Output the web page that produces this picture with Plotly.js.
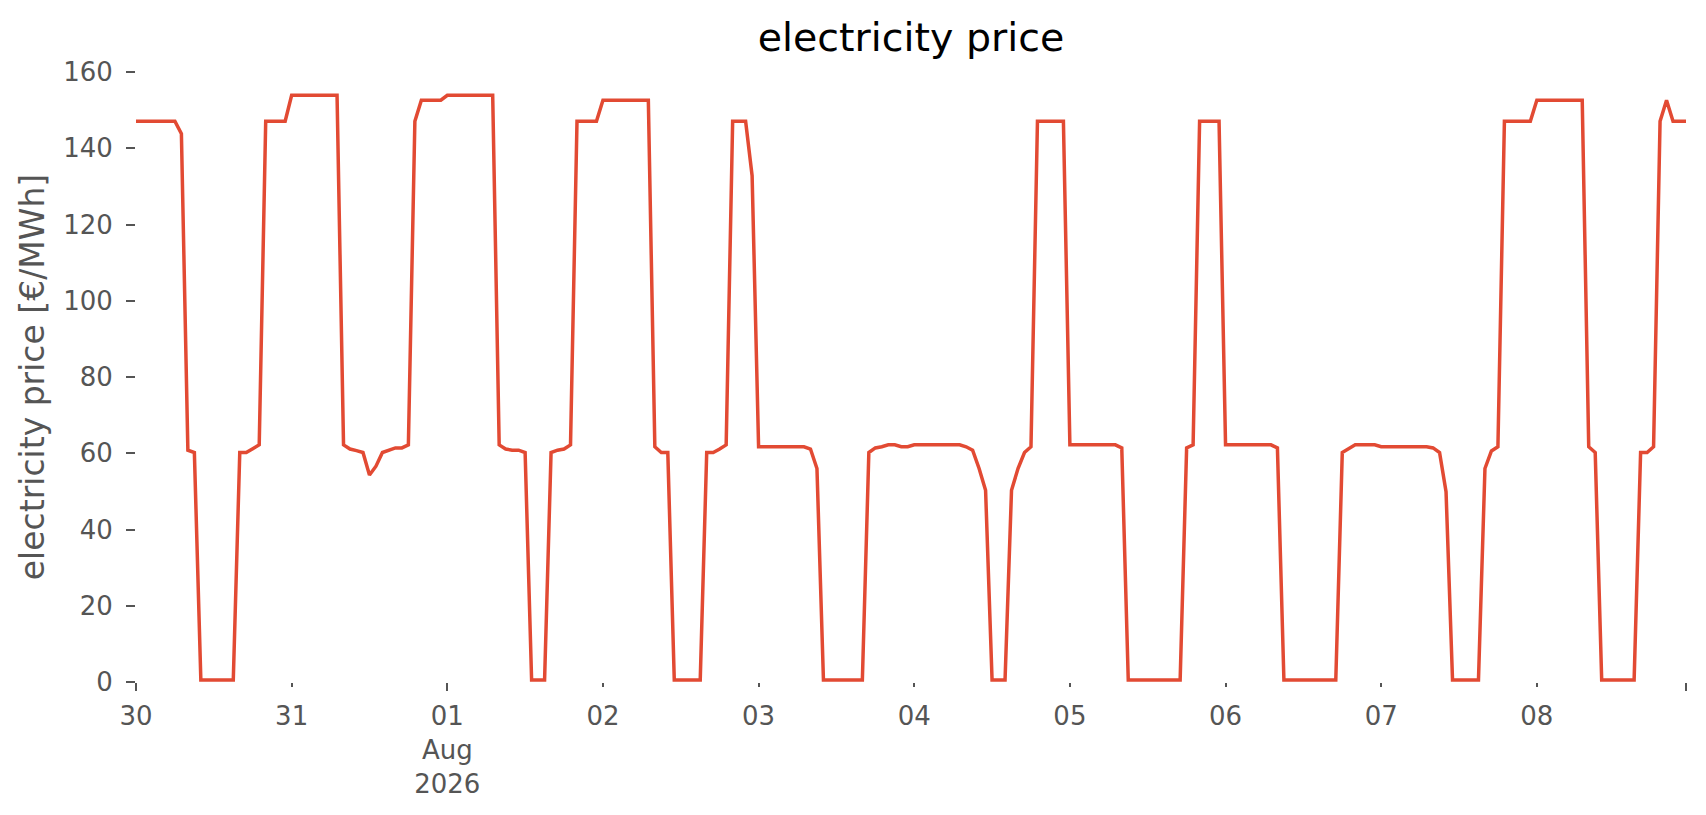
<!DOCTYPE html>
<html>
<head>
<meta charset="utf-8">
<script src="https://cdn.plot.ly/plotly-3.0.1.min.js"></script>
<style>
  html, body { margin: 0; padding: 0; background: #fff; }
  #chart { width: 1706px; height: 815px; }
</style>
</head>
<body>
<div id="chart"></div>
<script>
// ── Data: hourly prices per day ──────────────────────────────────────
const days = ['2026-07-30', '2026-07-31', '2026-08-01', '2026-08-02', '2026-08-03',
              '2026-08-04', '2026-08-05', '2026-08-06', '2026-08-07', '2026-08-08'];

const pricesJul30 = [147.1, 147.1, 147.1, 147.1, 147.1, 147.1, 147.1, 143.8,
                     60.8, 60.2, 0.5, 0.5, 0.5, 0.5, 0.5, 0.5,
                     60.2, 60.2, 61.2, 62.2, 147.1, 147.1, 147.1, 147.1];
const pricesJul31 = [153.9, 153.9, 153.9, 153.9, 153.9, 153.9, 153.9, 153.9,
                     62.2, 61.1, 60.7, 60.2, 54.3, 56.6, 60.2, 60.8,
                     61.4, 61.4, 62.2, 147.1, 152.6, 152.6, 152.6, 152.6];
const pricesAug01 = [153.9, 153.9, 153.9, 153.9, 153.9, 153.9, 153.9, 153.9,
                     62.2, 61.1, 60.8, 60.8, 60.2, 0.5, 0.5, 0.5,
                     60.2, 60.8, 61.1, 62.2, 147.1, 147.1, 147.1, 147.1];
const pricesAug02 = [152.6, 152.6, 152.6, 152.6, 152.6, 152.6, 152.6, 152.6,
                     61.7, 60.2, 60.2, 0.5, 0.5, 0.5, 0.5, 0.5,
                     60.2, 60.2, 61.1, 62.2, 147.1, 147.1, 147.1, 132.8];
const pricesAug03 = [61.7, 61.7, 61.7, 61.7, 61.7, 61.7, 61.7, 61.7,
                     61.1, 56.0, 0.5, 0.5, 0.5, 0.5, 0.5, 0.5,
                     0.5, 60.2, 61.4, 61.7, 62.2, 62.2, 61.7, 61.7];
const pricesAug04 = [62.2, 62.2, 62.2, 62.2, 62.2, 62.2, 62.2, 62.2,
                     61.7, 60.8, 56.0, 50.3, 0.5, 0.5, 0.5, 50.3,
                     56.0, 60.2, 61.7, 147.1, 147.1, 147.1, 147.1, 147.1];
const pricesAug05 = [62.2, 62.2, 62.2, 62.2, 62.2, 62.2, 62.2, 62.2,
                     61.4, 0.5, 0.5, 0.5, 0.5, 0.5, 0.5, 0.5,
                     0.5, 0.5, 61.4, 62.2, 147.1, 147.1, 147.1, 147.1];
const pricesAug06 = [62.2, 62.2, 62.2, 62.2, 62.2, 62.2, 62.2, 62.2,
                     61.4, 0.5, 0.5, 0.5, 0.5, 0.5, 0.5, 0.5,
                     0.5, 0.5, 60.2, 61.3, 62.2, 62.2, 62.2, 62.2];
const pricesAug07 = [61.7, 61.7, 61.7, 61.7, 61.7, 61.7, 61.7, 61.7,
                     61.4, 60.2, 49.9, 0.5, 0.5, 0.5, 0.5, 0.5,
                     56.0, 60.6, 61.7, 147.1, 147.1, 147.1, 147.1, 147.1];
const pricesAug08 = [152.6, 152.6, 152.6, 152.6, 152.6, 152.6, 152.6, 152.6,
                     61.7, 60.2, 0.5, 0.5, 0.5, 0.5, 0.5, 0.5,
                     60.2, 60.2, 61.7, 147.1, 152.6, 147.1, 147.1, 147.1];

const dayPrices = [pricesJul30, pricesJul31, pricesAug01, pricesAug02, pricesAug03,
                   pricesAug04, pricesAug05, pricesAug06, pricesAug07, pricesAug08];

// tick labels on the date axis (matplotlib concise style)
const dayTickVals = ['2026-07-30', '2026-07-31', '2026-08-01', '2026-08-02', '2026-08-03',
                     '2026-08-04', '2026-08-05', '2026-08-06', '2026-08-07', '2026-08-08',
                     '2026-08-08 23:00'];
const dayTickText = ['30', '31', '01<br>Aug<br>2026', '02', '03',
                     '04', '05', '06', '07', '08', ''];
// the longer ticks
const majorTickVals = ['2026-07-30', '2026-08-01', '2026-08-08 23:00'];

const yTickVals = [0, 20, 40, 60, 80, 100, 120, 140, 160];

// ── Build series ─────────────────────────────────────────────────────
const x = [];
const y = [];
days.forEach((d, i) => {
    dayPrices[i].forEach((v, h) => {
        x.push(d + ' ' + String(h).padStart(2, '0') + ':00');
        y.push(v);
    });
});

const FONT = 'DejaVu Sans, Liberation Sans, sans-serif';
const GREY = '#555555';

const priceTrace = {
    x: x,
    y: y,
    type: 'scatter',
    mode: 'lines',
    line: { color: '#E24A33', width: 3.5 },
    hoverinfo: 'x+y'
};

// empty trace so the overlay axis (long ticks) is drawn
const tickTrace = {
    x: [],
    y: [],
    xaxis: 'x2',
    type: 'scatter',
    showlegend: false,
    hoverinfo: 'skip'
};

const layout = {
    width: 1706,
    height: 815,
    margin: { l: 136, r: 20, t: 72, b: 133 },
    paper_bgcolor: '#ffffff',
    plot_bgcolor: '#ffffff',
    showlegend: false,
    font: { family: FONT, size: 26, color: GREY },
    title: {
        text: 'electricity price',
        font: { family: FONT, size: 39.5, color: '#000000' },
        x: 0.534,
        xanchor: 'center',
        y: 0.955,
        yanchor: 'middle'
    },
    xaxis: {
        type: 'date',
        range: [x[0], x[x.length - 1]],
        tickmode: 'array',
        tickvals: dayTickVals,
        ticktext: dayTickText,
        ticks: 'outside',
        ticklen: 4,
        tickwidth: 2,
        tickcolor: GREY,
        ticklabelstandoff: 7,
        tickfont: { family: FONT, size: 26, color: GREY },
        showgrid: false,
        zeroline: false,
        showline: false
    },
    xaxis2: {
        type: 'date',
        overlaying: 'x',
        matches: 'x',
        tickmode: 'array',
        tickvals: majorTickVals,
        ticks: 'outside',
        ticklen: 8,
        tickwidth: 2,
        tickcolor: GREY,
        showticklabels: false,
        showgrid: false,
        zeroline: false,
        showline: false
    },
    yaxis: {
        range: [0, 160],
        tickmode: 'array',
        tickvals: yTickVals,
        ticks: 'outside',
        ticklen: 9,
        tickwidth: 2,
        tickcolor: GREY,
        ticklabelstandoff: 8,
        tickfont: { family: FONT, size: 26, color: GREY },
        showgrid: false,
        zeroline: false,
        showline: false,
        title: {
            text: 'electricity price [€/MWh]',
            font: { family: FONT, size: 33, color: GREY },
            standoff: 8
        }
    }
};

Plotly.newPlot('chart', [priceTrace, tickTrace], layout, { staticPlot: true });
</script>
</body>
</html>
